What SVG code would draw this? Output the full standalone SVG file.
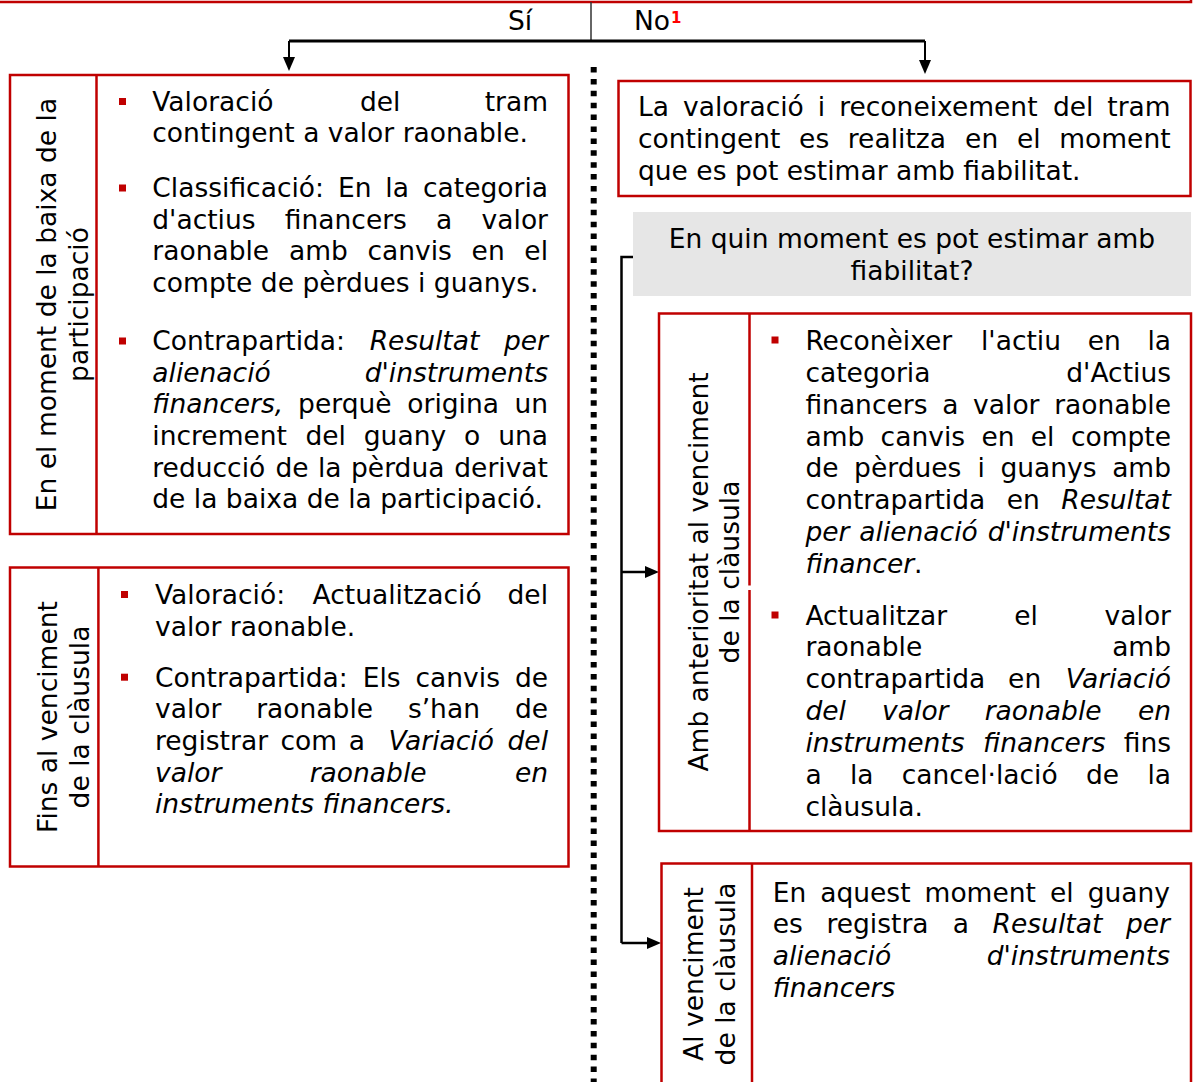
<svg xmlns="http://www.w3.org/2000/svg" width="1193" height="1082" viewBox="0 0 1193 1082">
<defs>
<style>
.t{font-family:"DejaVu Sans",Verdana,sans-serif;font-size:26.5px;fill:#000}
.i{font-style:italic}
.e{text-anchor:end}
.m{text-anchor:middle}
.box{fill:#fff;stroke:#C00000;stroke-width:2.5}
.dv{stroke:#C00000;stroke-width:2.5;fill:none}
.bul{fill:#C00000}
.ln{stroke:#000;fill:none}
</style>
<marker id="ah" markerUnits="userSpaceOnUse" markerWidth="14" markerHeight="12" refX="0" refY="6" orient="auto" viewBox="0 0 14 12">
<path d="M0,0 L14,6 L0,12 z" fill="#000"/>
</marker>
</defs>
<rect width="1193" height="1082" fill="#fff"/>

<g id="top-box">
<path d="M0,2 H1191 V-2" class="dv"/>
<path d="M591,2 V41" stroke="#333" stroke-width="1.5"/>
<text class="t" x="508" y="30">Sí</text>
<text class="t" x="634" y="30">No<tspan x="671" y="23" style="font-size:15px;font-weight:bold;fill:#FF0000">1</tspan></text>
</g>

<g id="separator">
<path d="M593.7,67 V1082" stroke="#000" stroke-width="6" stroke-dasharray="5.5 6.4"/>
</g>

<g id="connectors">
<path class="ln" stroke-width="3" d="M289,41 H925"/>
<path class="ln" stroke-width="2" d="M289,41 V57" marker-end="url(#ah)"/>
<path class="ln" stroke-width="2" d="M925,41 V60" marker-end="url(#ah)"/>
<path class="ln" stroke-width="2.5" d="M633,257 H621.5 V943"/>
<path class="ln" stroke-width="2.5" d="M621.5,572 H645" marker-end="url(#ah)"/>
<path class="ln" stroke-width="2.5" d="M621.5,943 H647" marker-end="url(#ah)"/>
</g>

<g id="box-baixa">
<rect class="box" x="10" y="75" width="558.5" height="459"/>
<path class="dv" d="M96.5,75 V534"/>
<text class="t m" transform="translate(0,304.5) rotate(-90)"><tspan x="0" y="56">En el moment de la baixa de la</tspan><tspan x="0" y="87.5">participació</tspan></text>
<rect class="bul" x="119" y="98" width="7" height="7"/>
<rect class="bul" x="119" y="184.5" width="7" height="7"/>
<rect class="bul" x="119" y="337.5" width="7" height="7"/>
<text class="t"><tspan x="152.3" y="110.7">Valoració</tspan><tspan x="359.9">del</tspan><tspan class="e" x="548">tram</tspan></text>
<text class="t" x="152.3" y="142.3">contingent a valor raonable.</text>
<text class="t"><tspan x="152.3" y="197">Classificació:</tspan><tspan x="337.9">En</tspan><tspan x="385.3">la</tspan><tspan class="e" x="548">categoria</tspan></text>
<text class="t"><tspan x="152.3" y="228.5">d'actius</tspan><tspan x="284.8">financers</tspan><tspan x="436.1">a</tspan><tspan class="e" x="548">valor</tspan></text>
<text class="t"><tspan x="152.3" y="260">raonable</tspan><tspan x="288.9">amb</tspan><tspan x="367.4">canvis</tspan><tspan x="471.6">en</tspan><tspan class="e" x="548">el</tspan></text>
<text class="t" x="152.3" y="291.7">compte de pèrdues i guanys.</text>
<text class="t"><tspan x="152.3" y="350">Contrapartida:</tspan><tspan class="i" x="369.7">Resultat</tspan><tspan class="i e" x="548">per</tspan></text>
<text class="t i"><tspan x="152.3" y="381.7">alienació</tspan><tspan class="e" x="548">d'instruments</tspan></text>
<text class="t"><tspan class="i" x="152.3" y="413.3">financers,</tspan><tspan x="298.1">perquè</tspan><tspan x="407.3">origina</tspan><tspan class="e" x="548">un</tspan></text>
<text class="t"><tspan x="152.3" y="445">increment</tspan><tspan x="305.4">del</tspan><tspan x="363.8">guany</tspan><tspan x="464.1">o</tspan><tspan class="e" x="548">una</tspan></text>
<text class="t"><tspan x="152.3" y="476.7">reducció</tspan><tspan x="275.4">de</tspan><tspan x="317.9">la</tspan><tspan x="351">pèrdua</tspan><tspan class="e" x="548">derivat</tspan></text>
<text class="t" x="152.3" y="508">de la baixa de la participació.</text>
</g>

<g id="box-fins">
<rect class="box" x="10" y="567.5" width="558.5" height="299"/>
<path class="dv" d="M98.4,567.5 V866.5"/>
<text class="t m" transform="translate(0,717) rotate(-90)"><tspan x="0" y="57">Fins al venciment</tspan><tspan x="0" y="89">de la clàusula</tspan></text>
<rect class="bul" x="121" y="591" width="7" height="7"/>
<rect class="bul" x="121" y="673.7" width="7" height="7"/>
<text class="t"><tspan x="155" y="604">Valoració:</tspan><tspan x="312.6">Actualització</tspan><tspan class="e" x="548">del</tspan></text>
<text class="t" x="155" y="635.5">valor raonable.</text>
<text class="t"><tspan x="155" y="686.7">Contrapartida:</tspan><tspan x="362.7">Els</tspan><tspan x="415.5">canvis</tspan><tspan class="e" x="548">de</tspan></text>
<text class="t"><tspan x="155" y="718.3">valor</tspan><tspan x="256.2">raonable</tspan><tspan x="407.9">s’han</tspan><tspan class="e" x="548">de</tspan></text>
<text class="t"><tspan x="155" y="750">registrar</tspan><tspan x="280.4">com</tspan><tspan x="348.8">a</tspan><tspan class="i" x="388.6">Variació</tspan><tspan class="i e" x="548">del</tspan></text>
<text class="t i"><tspan x="155" y="781.7">valor</tspan><tspan x="309.7">raonable</tspan><tspan class="e" x="548">en</tspan></text>
<text class="t i" x="155" y="813.3">instruments financers.</text>
</g>

<g id="box-valoracio">
<rect class="box" x="618.5" y="81" width="572" height="115"/>
<text class="t"><tspan x="638" y="116.3">La</tspan><tspan x="683">valoració</tspan><tspan x="817.8">i</tspan><tspan x="839.2">reconeixement</tspan><tspan x="1052.9">del</tspan><tspan class="e" x="1170.6">tram</tspan></text>
<text class="t"><tspan x="638" y="148">contingent</tspan><tspan x="799.1">es</tspan><tspan x="847.8">realitza</tspan><tspan x="965.1">en</tspan><tspan x="1016.9">el</tspan><tspan class="e" x="1170.6">moment</tspan></text>
<text class="t" x="638" y="179.7">que es pot estimar amb fiabilitat.</text>
</g>

<g id="question">
<rect x="633" y="212" width="558" height="84" fill="#E6E6E6"/>
<text class="t m"><tspan x="912" y="248">En quin moment es pot estimar amb</tspan><tspan x="912" y="280">fiabilitat?</tspan></text>
</g>

<g id="box-anterioritat">
<rect class="box" x="659" y="313.5" width="532" height="517.5"/>
<path class="dv" d="M749.5,313.5 V585.5 M749.5,590 V831"/>
<text class="t m" transform="translate(0,572) rotate(-90)"><tspan x="0" y="708">Amb anterioritat al venciment</tspan><tspan x="0" y="739">de la clàusula</tspan></text>
<rect class="bul" x="771.5" y="336.5" width="7" height="7"/>
<rect class="bul" x="771.5" y="611.5" width="7" height="7"/>
<text class="t"><tspan x="805.4" y="350">Reconèixer</tspan><tspan x="981">l'actiu</tspan><tspan x="1087.7">en</tspan><tspan class="e" x="1171">la</tspan></text>
<text class="t"><tspan x="805.4" y="382">categoria</tspan><tspan class="e" x="1171">d'Actius</tspan></text>
<text class="t"><tspan x="805.4" y="413.6">financers</tspan><tspan x="942.2">a</tspan><tspan x="973.1">valor</tspan><tspan class="e" x="1171">raonable</tspan></text>
<text class="t"><tspan x="805.4" y="445.7">amb</tspan><tspan x="880.6">canvis</tspan><tspan x="981.4">en</tspan><tspan x="1030.8">el</tspan><tspan class="e" x="1171">compte</tspan></text>
<text class="t"><tspan x="805.4" y="477">de</tspan><tspan x="854.1">pèrdues</tspan><tspan x="977.4">i</tspan><tspan x="1000.4">guanys</tspan><tspan class="e" x="1171">amb</tspan></text>
<text class="t"><tspan x="805.4" y="509">contrapartida</tspan><tspan x="1006.8">en</tspan><tspan class="i e" x="1171">Resultat</tspan></text>
<text class="t i"><tspan x="805.4" y="541">per</tspan><tspan x="859.3">alienació</tspan><tspan class="e" x="1171">d'instruments</tspan></text>
<text class="t" x="805.4" y="573"><tspan class="i">financer</tspan>.</text>
<text class="t"><tspan x="805.4" y="624.7">Actualitzar</tspan><tspan x="1014.3">el</tspan><tspan class="e" x="1171">valor</tspan></text>
<text class="t"><tspan x="805.4" y="656.4">raonable</tspan><tspan class="e" x="1171">amb</tspan></text>
<text class="t"><tspan x="805.4" y="688.4">contrapartida</tspan><tspan x="1008.1">en</tspan><tspan class="i e" x="1171">Variació</tspan></text>
<text class="t i"><tspan x="805.4" y="720">del</tspan><tspan x="882.1">valor</tspan><tspan x="984.7">raonable</tspan><tspan class="e" x="1171">en</tspan></text>
<text class="t"><tspan class="i" x="805.4" y="752">instruments</tspan><tspan class="i" x="983.1">financers</tspan><tspan class="e" x="1171">fins</tspan></text>
<text class="t"><tspan x="805.4" y="783.8">a</tspan><tspan x="849.9">la</tspan><tspan x="901.7">cancel·lació</tspan><tspan x="1086">de</tspan><tspan class="e" x="1171">la</tspan></text>
<text class="t" x="805.4" y="815.8">clàusula.</text>
</g>

<g id="box-venciment">
<rect class="box" x="661.5" y="863.5" width="529.5" height="225"/>
<path class="dv" d="M752,863.5 V1088"/>
<text class="t m" transform="translate(0,974) rotate(-90)"><tspan x="0" y="703">Al venciment</tspan><tspan x="0" y="735">de la clàusula</tspan></text>
<text class="t"><tspan x="772.7" y="901.7">En</tspan><tspan x="820.2">aquest</tspan><tspan x="924.6">moment</tspan><tspan x="1049.9">el</tspan><tspan class="e" x="1170">guany</tspan></text>
<text class="t"><tspan x="772.7" y="933.3">es</tspan><tspan x="826.4">registra</tspan><tspan x="952.8">a</tspan><tspan class="i" x="992.6">Resultat</tspan><tspan class="i e" x="1170">per</tspan></text>
<text class="t i"><tspan x="772.7" y="965">alienació</tspan><tspan class="e" x="1170">d'instruments</tspan></text>
<text class="t i" x="772.7" y="996.7">financers</text>
</g>
</svg>
